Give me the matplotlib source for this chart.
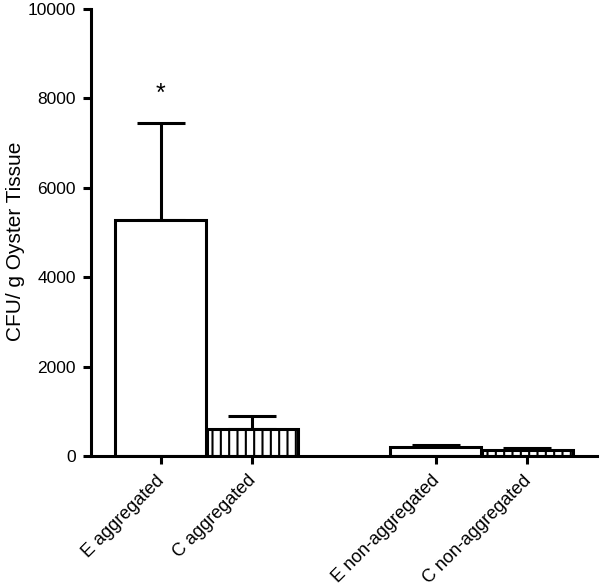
import matplotlib.pyplot as plt
import matplotlib.transforms as mtransforms

plt.rcParams['font.family'] = ['Liberation Sans', 'DejaVu Sans']
plt.rcParams['hatch.linewidth'] = 1.5

groups = ['E aggregated', 'C aggregated', 'E non-aggregated', 'C non-aggregated']
positions = [0, 1, 3, 4]
means = [5280, 600, 190, 140]
errors = [2170, 300, 50, 45]
hatches = ['', '||', '', '||']

fig = plt.figure(figsize=(6, 5.88), dpi=100)
ax = fig.add_axes([0.152, 0.2245, 0.843, 0.7605])

for x, m, e, h in zip(positions, means, errors, hatches):
    ax.bar(x, m, width=0.99, color='white', edgecolor='black', linewidth=2.2, hatch=h, zorder=2)
    ax.errorbar(x, m, yerr=[[0], [e]], color='black', elinewidth=2.2, capsize=17, capthick=2.2, zorder=1)

ax.text(0, 8100, '*', ha='center', va='center', fontsize=18)

ax.set_xlim(-0.76, 4.76)
ax.set_ylim(0, 10000)
ax.set_yticks([0, 2000, 4000, 6000, 8000, 10000])
ax.set_xticks(positions)
ax.set_xticklabels([])
ax.set_ylabel('CFU/ g Oyster Tissue', fontsize=15)
ax.yaxis.set_label_coords(-0.13, 0.48)

# rotated category labels, ending just under each tick
base = mtransforms.blended_transform_factory(ax.transData, ax.transAxes)
shift = mtransforms.ScaledTranslation(-0.05, -0.16, fig.dpi_scale_trans)
for x, g in zip(positions, groups):
    ax.text(x, 0, g, transform=base + shift, rotation=45, ha='right', va='top',
            rotation_mode='anchor', fontsize=13)

for s in ['top', 'right']:
    ax.spines[s].set_visible(False)
for s in ['left', 'bottom']:
    ax.spines[s].set_linewidth(2.2)
ax.tick_params(axis='both', direction='out', length=6, width=2.2, pad=5)
ax.tick_params(axis='y', labelsize=12.5)

plt.savefig('out.png', dpi=100)
plt.close()
